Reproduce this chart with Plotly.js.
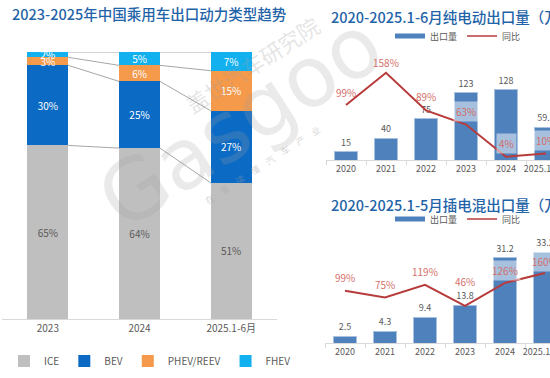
<!DOCTYPE html>
<html>
<head>
<meta charset="utf-8">
<script src="https://cdn.plot.ly/plotly-3.0.1.min.js"></script>
<style>
html,body{margin:0;padding:0;background:#fff;overflow:hidden;}
#chart{width:550px;height:378px;}
</style>
</head>
<body>
<div id="chart"></div>
<script>
// ---- data ----
const shareYears = ['2023', '2024', '2025.1-6月'];
const iceShare  = [65, 64, 51];
const bevShare  = [30, 25, 27];
const phevShare = [3, 6, 15];
const fhevShare = [2, 5, 7];

const exportYears = ['2020', '2021', '2022', '2023', '2024', '2025.1-6月'];
const phevYears   = ['2020', '2021', '2022', '2023', '2024', '2025.1-5月'];
const bevVolume = [15, 40, 75, 123, 128, 59.5];
const bevYoY    = [99, 158, 89, 63, 4, 10];
const phevVolume = [2.5, 4.3, 9.4, 13.8, 31.2, 33.2];
const phevYoY    = [99, 75, 119, 46, 126, 160];

// ---- styles ----
const FONT = '"Noto Sans CJK SC", "Noto Sans", sans-serif';
const GREY_TXT = '#595959';
const TITLE_C = '#1f63a8';
const BAR_C = '#4f81bd';
const LINE_C = '#b83b3b';
const LBL_C = '#d46f6a';
const shareColors = {ICE:'#bfbfbf', BEV:'#0b6bc4', PHEV:'#f5994a', FHEV:'#12b0ee'};
const leftBarWidth = 0.447;
const rightBarWidth = 0.56;
const phevLabelShift = [13, 13, 13, 24, 12, 12];
const bevLabelShift = [12, 10, 14, 13, 13, 13];
const bevLabelBox = [false, false, false, true, true, true];
const phevLabelBox = [false, false, false, false, true, true];

const traces = [];
function shareTrace(name, vals, color, txtColor) {
  return {
    type: 'bar', name: name, x: shareYears, y: vals,
    xaxis: 'x', yaxis: 'y', width: leftBarWidth,
    marker: {color: color},
    text: vals.map(v => v + '%'), textposition: 'inside', insidetextanchor: 'middle',
    textangle: 0, constraintext: 'none',
    textfont: {family: FONT, size: 10, color: txtColor},
    hoverinfo: 'skip', legend: 'legend'
  };
}
traces.push(shareTrace('ICE', iceShare, shareColors.ICE, GREY_TXT));
traces.push(shareTrace('BEV', bevShare, shareColors.BEV, '#ffffff'));
traces.push(shareTrace('PHEV/REEV', phevShare, shareColors.PHEV, '#ffffff'));
traces.push(shareTrace('FHEV', fhevShare, shareColors.FHEV, '#ffffff'));

// BEV export chart
traces.push({
  type: 'bar', x: exportYears, y: bevVolume, xaxis: 'x2', yaxis: 'y2',
  width: rightBarWidth, marker: {color: BAR_C, line: {color: '#a9c1e0', width: 1}},
  text: bevVolume.map(String), textposition: 'outside', cliponaxis: false,
  textfont: {family: FONT, size: 9, color: GREY_TXT}, showlegend: false, hoverinfo: 'skip'
});
traces.push({
  type: 'scatter', mode: 'lines', x: exportYears, y: bevYoY, xaxis: 'x2', yaxis: 'y3',
  line: {color: LINE_C, width: 2}, showlegend: false, hoverinfo: 'skip'
});
// PHEV export chart
traces.push({
  type: 'bar', x: phevYears, y: phevVolume, xaxis: 'x3', yaxis: 'y4',
  width: rightBarWidth, marker: {color: BAR_C, line: {color: '#a9c1e0', width: 1}},
  text: phevVolume.map(String), textposition: 'outside', cliponaxis: false,
  textfont: {family: FONT, size: 9, color: GREY_TXT}, showlegend: false, hoverinfo: 'skip'
});
traces.push({
  type: 'scatter', mode: 'lines', x: phevYears, y: phevYoY, xaxis: 'x3', yaxis: 'y5',
  line: {color: LINE_C, width: 2}, showlegend: false, hoverinfo: 'skip'
});
// legend keys for right charts
['legend2', 'legend3'].forEach(lg => {
  traces.push({type: 'scatter', mode: 'lines', x: [null], y: [null], xaxis: 'x2', yaxis: 'y2',
    name: '出口量', line: {color: BAR_C, width: 5}, legend: lg, hoverinfo: 'skip'});
  traces.push({type: 'scatter', mode: 'lines', x: [null], y: [null], xaxis: 'x2', yaxis: 'y2',
    name: '同比', line: {color: LINE_C, width: 1.5}, legend: lg, hoverinfo: 'skip'});
});

// connector lines between stacked bars
const shapes = [];
const cum = shareYears.map((_, i) => {
  const a = iceShare[i], b = a + bevShare[i], c = b + phevShare[i], d = c + fhevShare[i];
  return [a, b, c, d];
});
for (let i = 0; i < shareYears.length - 1; i++) {
  for (let k = 0; k < 4; k++) {
    shapes.push({type: 'line', xref: 'x', yref: 'y',
      x0: i + leftBarWidth / 2, y0: cum[i][k], x1: i + 1 - leftBarWidth / 2, y1: cum[i + 1][k],
      line: {color: '#a6a6a6', width: 1}, layer: 'below'});
  }
}

const annotations = [];
// watermark
annotations.push({xref: 'paper', yref: 'paper', x: 240/550, y: 1 - 122/378, xanchor: 'center', yanchor: 'middle',
  text: 'Gasgoo', showarrow: false, textangle: -33,
  font: {family: '"DejaVu Sans", sans-serif', size: 84, color: 'rgba(160,160,160,0.22)'}});
annotations.push({xref: 'paper', yref: 'paper', x: 252/550, y: 1 - 64/378, xanchor: 'center', yanchor: 'middle',
  text: '盖世汽车研究院', showarrow: false, textangle: -33,
  font: {family: FONT, size: 22, color: 'rgba(160,160,160,0.28)'}});
annotations.push({xref: 'paper', yref: 'paper', x: 262/550, y: 1 - 165/378, xanchor: 'center', yanchor: 'middle',
  text: '在　里　读　懂　汽　车　产　业', showarrow: false, textangle: -33,
  font: {family: FONT, size: 9, color: 'rgba(160,160,160,0.45)'}});
// titles
const titleFont = {family: FONT, size: 14.5, color: TITLE_C, weight: 500};
annotations.push({xref: 'paper', yref: 'paper', x: 10/550, y: 1 - 14/378, xanchor: 'left', yanchor: 'middle',
  text: '2023-2025年中国乘用车出口动力类型趋势', showarrow: false, font: titleFont});
annotations.push({xref: 'paper', yref: 'paper', x: 329/550, y: 1 - 16/378, xanchor: 'left', yanchor: 'middle',
  text: '2020-2025.1-6月纯电动出口量（万辆）', showarrow: false, font: titleFont});
annotations.push({xref: 'paper', yref: 'paper', x: 329/550, y: 1 - 204/378, xanchor: 'left', yanchor: 'middle',
  text: '2020-2025.1-5月插电混出口量（万辆）', showarrow: false, font: titleFont});
// yoy labels (x given as category index)
bevYoY.forEach((v, i) => annotations.push({xref: 'x2', yref: 'y3', x: i, y: v, yshift: bevLabelShift[i],
  xanchor: 'center', yanchor: 'middle', text: v + '%', showarrow: false,
  bgcolor: bevLabelBox[i] ? 'rgba(255,255,255,0.5)' : 'rgba(0,0,0,0)', borderpad: 2,
  font: {family: FONT, size: 10, color: LBL_C}}));
phevYoY.forEach((v, i) => annotations.push({xref: 'x3', yref: 'y5', x: i, y: v, yshift: phevLabelShift[i],
  xanchor: 'center', yanchor: 'middle', text: v + '%', showarrow: false,
  bgcolor: phevLabelBox[i] ? 'rgba(255,255,255,0.5)' : 'rgba(0,0,0,0)', borderpad: 2,
  font: {family: FONT, size: 10, color: LBL_C}}));

const xCat = (domain, range) => ({domain: domain, type: 'category', range: range, showline: true,
  linecolor: '#d9d9d9', linewidth: 1, ticks: 'outside', tickson: 'boundaries', ticklen: 4, tickcolor: '#d9d9d9',
  tickangle: 0, showgrid: false, zeroline: false, tickfont: {family: FONT, size: 9, color: GREY_TXT}, fixedrange: true});
const yHidden = (extra) => Object.assign({visible: false, showgrid: false, zeroline: false, fixedrange: true}, extra);

const layout = {
  width: 550, height: 378, margin: {l: 0, r: 0, t: 0, b: 0},
  paper_bgcolor: '#ffffff', plot_bgcolor: 'rgba(0,0,0,0)',
  barmode: 'stack', showlegend: true,
  font: {family: FONT, color: GREY_TXT},
  xaxis: {domain: [2/550, 277/550], type: 'category', range: [-0.5, 2.5], showline: true, linecolor: '#d9d9d9',
    ticks: '', tickangle: 0, showgrid: false, zeroline: false, tickfont: {family: FONT, size: 10, color: GREY_TXT}, anchor: 'y'},
  yaxis: yHidden({domain: [1 - 319/378, 1 - 52/378], range: [0, 100], anchor: 'x'}),
  xaxis2: Object.assign(xCat([326/550, 1], [-0.5, 5.1]), {anchor: 'y2'}),
  yaxis2: yHidden({domain: [1 - 160/378, 1 - 45/378], range: [0, 210], anchor: 'x2'}),
  yaxis3: yHidden({overlaying: 'y2', range: [-2, 209], anchor: 'x2'}),
  xaxis3: Object.assign(xCat([325/550, 1], [-0.5, 5.125]), {anchor: 'y4'}),
  yaxis4: yHidden({domain: [1 - 343/378, 1 - 240/378], range: [0, 37.6], anchor: 'x3'}),
  yaxis5: yHidden({overlaying: 'y4', range: [-83, 275], anchor: 'x3'}),
  legend: {orientation: 'h', traceorder: 'normal', x: 4/550, y: 1 - 361/378, xanchor: 'left', yanchor: 'middle',
    font: {family: FONT, size: 10, color: GREY_TXT}, itemwidth: 30, bgcolor: 'rgba(0,0,0,0)'},
  legend2: {orientation: 'h', traceorder: 'normal', x: 390/550, y: 1 - 36/378, xanchor: 'left', yanchor: 'middle',
    font: {family: FONT, size: 9, color: GREY_TXT}, itemwidth: 30, bgcolor: 'rgba(0,0,0,0)'},
  legend3: {orientation: 'h', traceorder: 'normal', x: 390/550, y: 1 - 219/378, xanchor: 'left', yanchor: 'middle',
    font: {family: FONT, size: 9, color: GREY_TXT}, itemwidth: 30, bgcolor: 'rgba(0,0,0,0)'},
  shapes: shapes,
  annotations: annotations
};

Plotly.newPlot('chart', traces, layout, {displayModeBar: false, staticPlot: true});
</script>
</body>
</html>
